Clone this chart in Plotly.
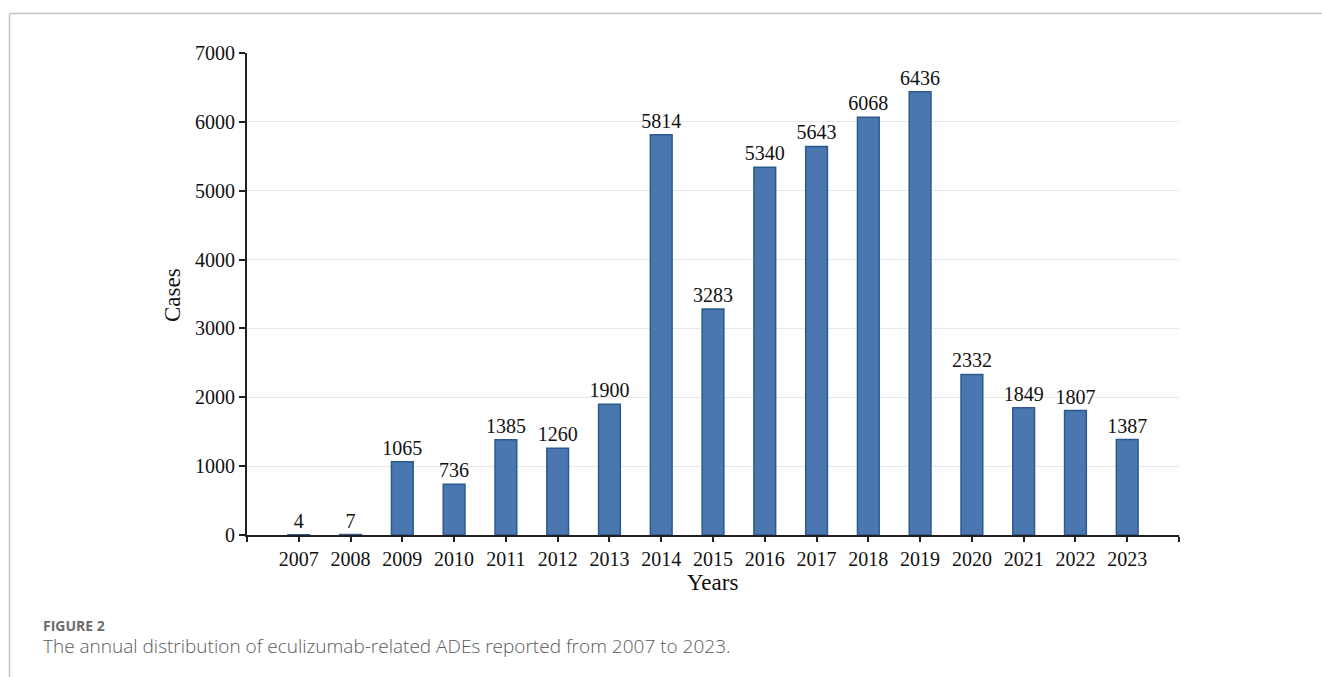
import plotly.graph_objects as go

years = ["2007", "2008", "2009", "2010", "2011", "2012", "2013", "2014", "2015",
         "2016", "2017", "2018", "2019", "2020", "2021", "2022", "2023"]
cases = [4, 7, 1065, 736, 1385, 1260, 1900, 5814, 3283,
         5340, 5643, 6068, 6436, 2332, 1849, 1807, 1387]
y_ticks = [0, 1000, 2000, 3000, 4000, 5000, 6000, 7000]

idx = list(range(len(years)))

# plot area in pixels
W, H = 1322, 677
L, R, T, B = 247, 1179, 53, 535
pw, ph = R - L, B - T


def px(x):
    return (x - L) / pw


def py(y):
    return (B - y) / ph


serif = "Liberation Serif, Times New Roman, serif"

fig = go.Figure()
fig.add_trace(go.Bar(
    x=idx, y=cases, width=0.42,
    marker=dict(color="#4a77b0", line=dict(color="#2d5a8e", width=1.5)),
    text=[str(v) for v in cases], textposition="outside",
    constraintext="none",
    textfont=dict(family=serif, size=20, color="#111"),
    cliponaxis=False,
))

fig.update_layout(
    width=W, height=H,
    margin=dict(l=L, r=W - R, t=T, b=H - B),
    plot_bgcolor="white", paper_bgcolor="white",
    showlegend=False,
    xaxis=dict(
        range=[-1, len(years)],
        tickmode="array",
        tickvals=[-1] + idx + [len(years)],
        ticktext=[""] + years + [""],
        ticks="outside", ticklen=5, tickwidth=2, tickcolor="#231f20",
        showline=True, linecolor="#231f20", linewidth=2,
        showgrid=False, zeroline=False,
        tickfont=dict(family=serif, size=20, color="#111"),
    ),
    yaxis=dict(
        range=[0, 7000],
        tickmode="array", tickvals=y_ticks,
        ticks="outside", ticklen=6, tickwidth=2, tickcolor="#231f20",
        showline=True, linecolor="#231f20", linewidth=2,
        showgrid=True, gridcolor="#e8e8e8", gridwidth=1,
        zeroline=False,
        tickfont=dict(family=serif, size=20, color="#111"),
    ),
    annotations=[
        dict(text="Cases", x=px(172), y=py(295), xref="paper", yref="paper",
             textangle=-90, showarrow=False, xanchor="center", yanchor="middle",
             font=dict(family=serif, size=23, color="#111")),
        dict(text="Years", x=px(712), y=py(582), xref="paper", yref="paper",
             showarrow=False, xanchor="center", yanchor="middle",
             font=dict(family=serif, size=23, color="#111")),
        dict(text="FIGURE 2", x=px(41), y=py(625), xref="paper", yref="paper",
             showarrow=False, xanchor="left", yanchor="middle",
             font=dict(family="Open Sans, sans-serif", size=14, color="#6b6b6b", weight="bold")),
        dict(text="The annual distribution of eculizumab-related ADEs reported from 2007 to 2023.",
             x=px(41), y=py(646), xref="paper", yref="paper",
             showarrow=False, xanchor="left", yanchor="middle",
             font=dict(family="Open Sans, sans-serif", size=19, color="#5a5a5a", weight=300)),
    ],
    shapes=[
        dict(type="line", xref="paper", yref="paper", x0=px(9.5), x1=px(1322), y0=py(13.5), y1=py(13.5),
             line=dict(color="#c4c4c4", width=1.5)),
        dict(type="line", xref="paper", yref="paper", x0=px(9.5), x1=px(9.5), y0=py(13.5), y1=py(677),
             line=dict(color="#c4c4c4", width=1.5)),
    ],
)

fig.write_html("out.html")
